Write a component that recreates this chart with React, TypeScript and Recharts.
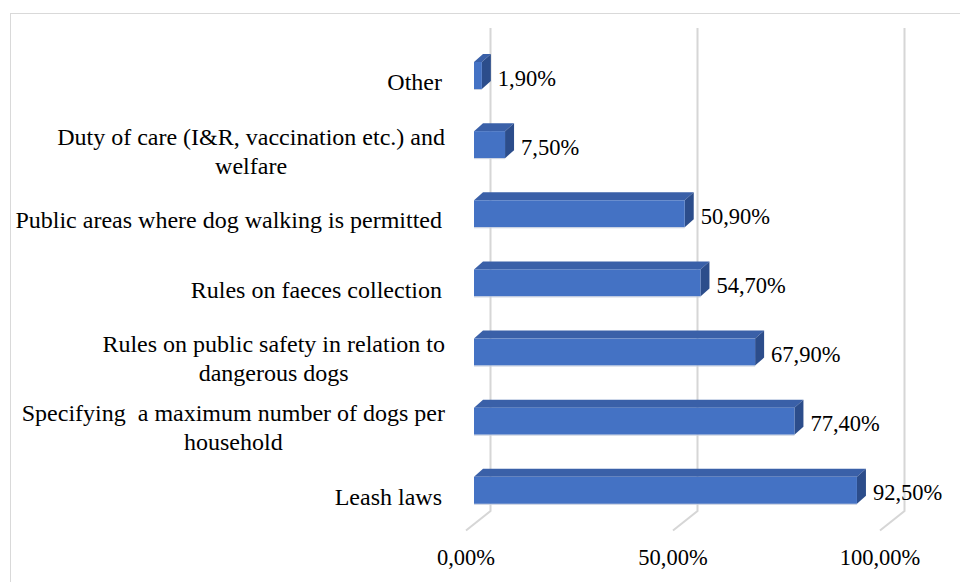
import { Bar, BarChart, CartesianGrid, LabelList, XAxis, YAxis } from 'recharts';

const categories = [
  'Other',
  'Duty of care (I&R, vaccination etc.) and\nwelfare',
  'Public areas where dog walking is permitted',
  'Rules on faeces collection',
  'Rules on public safety in relation to\ndangerous dogs',
  'Specifying  a maximum number of dogs per\nhousehold',
  'Leash laws',
];
const shares = [1.9, 7.5, 50.9, 54.7, 67.9, 77.4, 92.5];
const xTicks = [0, 50, 100];

const data = categories.map((name, i) => ({ name, value: shares[i] }));

const FONT = "'Liberation Serif', 'Times New Roman', serif";
const CAT_SIZE = 24;
const NUM_SIZE = 22.5;
const FRONT = '#4472c4';
const TOP = '#3a60a8';
const SIDE = '#2c4d8b';
const GRID = '#d6d6d6';
// 3d depth of the bars
const DX = 9;
const DY = 8;

const fmt = (v: number) => v.toFixed(2).replace('.', ',') + '%';

let ctx: CanvasRenderingContext2D | null = null;
function textWidth(s: string, size: number) {
  if (!ctx) ctx = document.createElement('canvas').getContext('2d');
  if (!ctx) return s.length * size * 0.45;
  ctx.font = `${size}px 'Liberation Serif'`;
  return ctx.measureText(s).width;
}

function Bar3D(props: any) {
  const { x, y, width, height } = props;
  if (width == null || height == null) return null;
  const w = Math.max(width, 0);
  return (
    <g>
      <polygon
        points={`${x},${y} ${x + DX},${y - DY} ${x + w + DX},${y - DY} ${x + w},${y}`}
        fill={TOP}
      />
      <polygon
        points={`${x + w},${y} ${x + w + DX},${y - DY} ${x + w + DX},${y + height - DY} ${x + w},${y + height}`}
        fill={SIDE}
      />
      <rect x={x} y={y} width={w} height={height} fill={FRONT} />
      <line x1={x} y1={y + height + 0.5} x2={x + w} y2={y + height + 0.5} stroke="#c9d0df" strokeWidth={1} />
    </g>
  );
}

function GridLine(props: any) {
  const { x1 } = props;
  return (
    <polyline
      key={props.key}
      points={`${x1 + 16.5},28 ${x1 + 16.5},511 ${x1 - 8},530.5`}
      fill="none"
      stroke={GRID}
      strokeWidth={2}
    />
  );
}

function CategoryTick(props: any) {
  const { x, y, payload } = props;
  const lines = String(payload.value).split('\n');
  const multi = lines.length > 1;
  const right = multi ? x - 29 : x - 32;
  const base = y + 14.5;
  const lh = 29;
  const cx = right - textWidth(lines[0], CAT_SIZE) / 2;
  return (
    <g>
      {lines.map((ln, i) => (
        <text
          key={i}
          x={multi ? cx : right}
          y={base + (i - (lines.length - 1) / 2) * lh}
          textAnchor={multi ? 'middle' : 'end'}
          fontFamily={FONT}
          fontSize={CAT_SIZE}
          fill="#000"
          style={{ whiteSpace: 'pre', fontFamily: FONT }}
        >
          {ln}
        </text>
      ))}
    </g>
  );
}

function ValueTick(props: any) {
  const { x, payload } = props;
  return (
    <text x={x - 8} y={565} textAnchor="middle" fontFamily={FONT} fontSize={NUM_SIZE} fill="#000" style={{ fontFamily: FONT }}>
      {fmt(payload.value)}
    </text>
  );
}

function ValueLabel(props: any) {
  const { x, y, width, height, value } = props;
  return (
    <text
      x={x + width + 16}
      y={y + height / 2 + 10}
      fontFamily={FONT}
      fontSize={NUM_SIZE}
      fill="#000"
      style={{ fontFamily: FONT }}
    >
      {fmt(Number(value))}
    </text>
  );
}

export default function App() {
  return (
    <div style={{ position: 'absolute', left: 0, top: 0, width: 960, height: 582, overflow: 'hidden', background: '#fff' }}>
      <div
        style={{
          position: 'absolute',
          left: 10,
          top: 13,
          width: 950,
          height: 569,
          borderTop: '1.5px solid #d9d9d9',
          borderLeft: '1.5px solid #d9d9d9',
          boxSizing: 'border-box',
        }}
      />
      <div style={{ position: 'absolute', left: 0, top: 0 }}>
        <BarChart
          width={960}
          height={582}
          data={data}
          layout="vertical"
          margin={{ top: 41, right: 72, bottom: 0, left: 0 }}
          barSize={27}
        >
          <CartesianGrid horizontal={false} vertical={GridLine} />
          <XAxis
            type="number"
            domain={[0, 100]}
            ticks={xTicks}
            height={57}
            axisLine={false}
            tickLine={false}
            tickSize={0}
            tickMargin={0}
            tick={<ValueTick />}
            interval={0}
          />
          <YAxis
            type="category"
            dataKey="name"
            width={474}
            axisLine={false}
            tickLine={false}
            tickSize={0}
            tickMargin={0}
            tick={<CategoryTick />}
            interval={0}
          />
          <Bar dataKey="value" shape={<Bar3D />} isAnimationActive={false}>
            <LabelList dataKey="value" content={<ValueLabel />} />
          </Bar>
        </BarChart>
      </div>
    </div>
  );
}
